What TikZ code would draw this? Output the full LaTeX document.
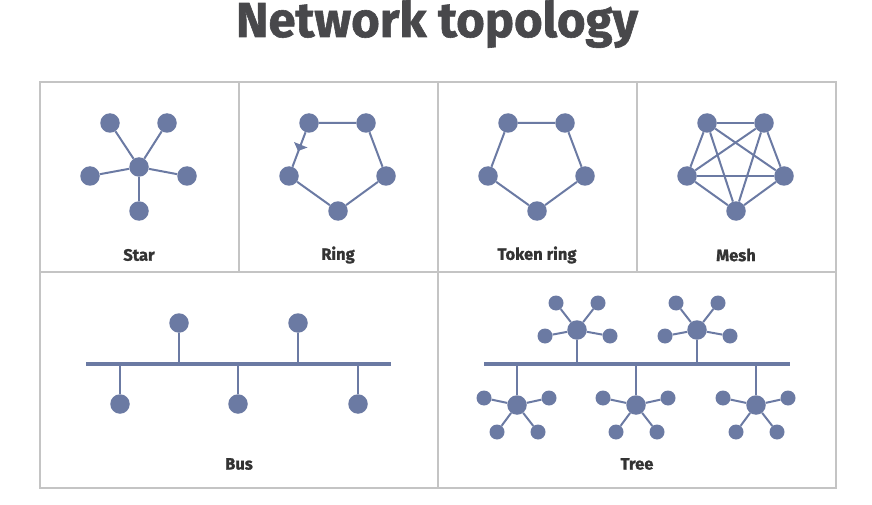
\documentclass[tikz,border=0pt]{standalone}
\usepackage{fontspec}
\setmainfont{Fira Sans}[BoldFeatures={FakeBold=1.2}]
\definecolor{nodeblue}{HTML}{6B7AA3}
\definecolor{framegray}{HTML}{C4C4C4}
\definecolor{titlegray}{HTML}{48484B}
\definecolor{labelgray}{HTML}{333333}

\begin{document}
\begin{tikzpicture}[x=1pt,y=-1pt,
    nd/.style={circle,fill=nodeblue,inner sep=0pt,minimum size=19.5pt},
    leaf/.style={circle,fill=nodeblue,inner sep=0pt,minimum size=15pt},
    link/.style={draw=nodeblue,line width=2pt},
    busline/.style={draw=nodeblue,line width=4.5pt},
    lbl/.style={font=\bfseries\fontsize{16.5}{19}\selectfont,text=labelgray}]
    \useasboundingbox (0,0) rectangle (872,505);
    \node[font=\bfseries\fontsize{49}{54}\selectfont,text=titlegray,anchor=base] (title) at (437,37) {Network topology};

    % frame
    \draw[framegray,line width=1.5pt] (40,82) rectangle (836,488);
    \draw[framegray,line width=1.5pt] (40,272) -- (836,272);
    \draw[framegray,line width=1.5pt] (239,82) -- (239,272) (438,82) -- (438,488) (637,82) -- (637,272);

    % top row: same five positions in every panel
    \foreach \k/\dx in {s/0,r/199,t/398,m/597}{
        \node[nd] (\k1) at (110+\dx,123) {};
        \node[nd] (\k2) at (167+\dx,123) {};
        \node[nd] (\k3) at (90+\dx,176) {};
        \node[nd] (\k4) at (187+\dx,176) {};
        \node[nd] (\k5) at (139+\dx,211) {};
    }
    \node[nd] (sc) at (139,167) {};
    \foreach \i in {1,...,5}
        \draw[link] (sc) -- (s\i);
    \foreach \k in {r,t}
        \draw[link] (\k1) -- (\k2) -- (\k4) -- (\k5) -- (\k3) -- (\k1);
    \fill[nodeblue] (294,142) -- (307.5,147.5) -- (298,151) -- cycle;
    \foreach \i/\j in {1/2,1/3,1/4,1/5,2/3,2/4,2/5,3/4,3/5,4/5}
        \draw[link] (m\i) -- (m\j);

    \node[lbl] (starlbl) at (139,255) {Star};
    \node[lbl] (ringlbl) at (338,255) {Ring};
    \node[lbl] (tokenlbl) at (537,255) {Token ring};
    \node[lbl] (meshlbl) at (736,255) {Mesh};

    % bus
    \coordinate (busL) at (86,364);
    \coordinate (busR) at (391,364);
    \draw[busline] (busL) -- (busR);
    \foreach \n/\x/\y in {b1/179/323,b2/298/323,b3/120/404,b4/238/404,b5/358/404}{
        \node[nd] (\n) at (\x,\y) {};
        \draw[link] (\n) -- (\n |- busL);
    }
    \node[lbl] (buslbl) at (239,464) {Bus};

    % tree
    \coordinate (treeL) at (484,364);
    \coordinate (treeR) at (790,364);
    \draw[busline] (treeL) -- (treeR);
    \foreach \h/\x in {u1/577,u2/697}{
        \node[nd] (\h) at (\x,330) {};
        \draw[link] (\h) -- (\h |- treeL);
        \foreach \dx/\dy [count=\i] in {-21/-27,21/-27,-32/6,33/6}{
            \node[leaf] (\h-\i) at ([shift={(\dx,\dy)}]\h) {};
            \draw[link] (\h) -- (\h-\i);
        }
    }
    \foreach \h/\x in {l1/517,l2/636,l3/756}{
        \node[nd] (\h) at (\x,405) {};
        \draw[link] (\h) -- (\h |- treeL);
        \foreach \dx/\dy [count=\i] in {-33/-7,32/-7,-20/27,21/27}{
            \node[leaf] (\h-\i) at ([shift={(\dx,\dy)}]\h) {};
            \draw[link] (\h) -- (\h-\i);
        }
    }
    \node[lbl] (treelbl) at (637,464) {Tree};
\end{tikzpicture}
\end{document}
